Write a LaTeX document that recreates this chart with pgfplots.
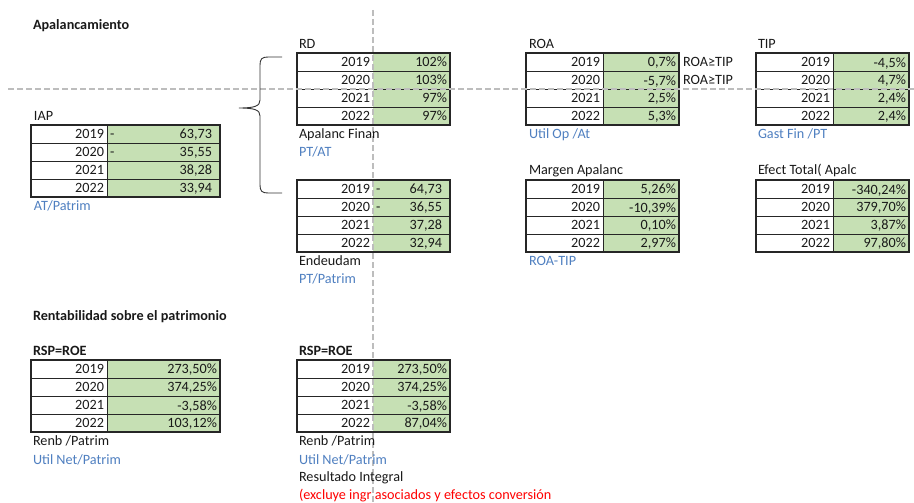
\documentclass[border=0pt]{standalone}
\usepackage{fontspec}
\setmainfont{Carlito}
\usepackage{pgfplots}
\pgfplotsset{compat=1.18}
\usepackage{pgfplotstable}
\definecolor{cellgreen}{HTML}{C6E0B4}
\definecolor{lblue}{HTML}{4F7FC0}
\definecolor{pgbreak}{HTML}{BDBDBD}
\newcommand\cf{\fontsize{14.2}{16}\selectfont}
\tikzset{
  lbl/.style={anchor=base west, inner sep=0pt, outer sep=0pt, font=\cf, text=black!90},
  blbl/.style={lbl, text=lblue},
}

\pgfplotstableread{
r year v
0 2019 -63.73
1 2020 -35.55
2 2021 38.28
3 2022 33.94
}\tIAP
\pgfplotstableread{
r year v
0 2019 102
1 2020 103
2 2021 97
3 2022 97
}\tRD
\pgfplotstableread{
r year v
0 2019 0.7
1 2020 -5.7
2 2021 2.5
3 2022 5.3
}\tROA
\pgfplotstableread{
r year v
0 2019 -4.5
1 2020 4.7
2 2021 2.4
3 2022 2.4
}\tTIP
\pgfplotstableread{
r year v
0 2019 -64.73
1 2020 -36.55
2 2021 37.28
3 2022 32.94
}\tEND
\pgfplotstableread{
r year v
0 2019 5.26
1 2020 -10.39
2 2021 0.10
3 2022 2.97
}\tMAR
\pgfplotstableread{
r year v
0 2019 -340.24
1 2020 379.70
2 2021 3.87
3 2022 97.80
}\tEFE
\pgfplotstableread{
r year v
0 2019 273.50
1 2020 374.25
2 2021 -3.58
3 2022 103.12
}\tROEa
\pgfplotstableread{
r year v
0 2019 273.50
1 2020 374.25
2 2021 -3.58
3 2022 87.04
}\tROEb

% grid of a 4-row table: x0, xdiv, x1, ytop, divider style
\newcommand\tgrid[5]{%
  \fill[cellgreen] (axis cs:#2,#4) rectangle (axis cs:#3,#4+72);
  \draw[line width=0.8pt, black!85]
    (axis cs:#1,#4+18) -- (axis cs:#3,#4+18)
    (axis cs:#1,#4+36) -- (axis cs:#3,#4+36)
    (axis cs:#1,#4+54) -- (axis cs:#3,#4+54);
  \draw[line width=0.8pt, black!85, #5] (axis cs:#2,#4) -- (axis cs:#2,#4+72);
  \draw[line width=1.2pt, black!85] (axis cs:#1,#4) rectangle (axis cs:#3,#4+72);
}
% years: xdiv, ytop, table
\newcommand\tyears[3]{%
  \addplot[draw=none, mark=none, point meta=explicit symbolic,
    nodes near coords={\smash{\makebox[0pt][r]{\pgfplotspointmeta}}}]
    table[x expr={#1-3}, y expr={#2+13.6+18*\thisrow{r}}, meta=year] {#3};
}
% values: x1, ytop, table, number options, suffix
\newcommand\tvals[5]{%
  \addplot[draw=none, mark=none, point meta=explicit,
    nodes near coords={\smash{\makebox[0pt][r]{\pgfmathprintnumber[#4]{\pgfplotspointmeta}#5}}}]
    table[x expr={#1-3}, y expr={#2+13.6+18*\thisrow{r}}, meta=v] {#3};
}
% accounting values: xdiv, x1, ytop, table
\newcommand\tacct[4]{%
  \addplot[draw=none, mark=none, point meta={abs(\thisrow{v})},
    nodes near coords={\smash{\makebox[0pt][r]{\pgfmathprintnumber[fixed,fixed zerofill,precision=2,use comma]{\pgfplotspointmeta}}}}]
    table[x expr={#2-8}, y expr={#3+13.6+18*\thisrow{r}}] {#4};
  \addplot[draw=none, mark=none, restrict expr to domain={\thisrow{v}}{-100000:0},
    nodes near coords={\smash{\makebox[0pt][l]{-}}}]
    table[x expr={#1+3}, y expr={#3+13.6+18*\thisrow{r}}] {#4};
}

\begin{document}
\begin{tikzpicture}
\begin{axis}[
  scale only axis, width=914pt, height=503pt,
  xmin=0, xmax=914, ymin=0, ymax=503, y dir=reverse,
  axis lines=none, clip=false,
  /pgf/number format/assume math mode=true,
  every node near coord/.style={inner sep=0pt, outer sep=0pt, font=\cf, text=black!90},
]
% tables
\tgrid{31}{107}{220}{125}{}
\tyears{107}{125}{\tIAP}
\tacct{107}{220}{125}{\tIAP}

\tgrid{297}{373}{450}{53}{draw=none}
\tyears{373}{53}{\tRD}
\tvals{450}{53}{\tRD}{fixed,precision=0}{\%}

\tgrid{526}{603}{679}{53}{}
\tyears{603}{53}{\tROA}
\tvals{679}{53}{\tROA}{fixed,fixed zerofill,precision=1,use comma}{\%}

\tgrid{756}{833}{909}{53}{}
\tyears{833}{53}{\tTIP}
\tvals{909}{53}{\tTIP}{fixed,fixed zerofill,precision=1,use comma}{\%}

\tgrid{297}{373}{450}{180}{draw=none}
\tyears{373}{180}{\tEND}
\tacct{373}{450}{180}{\tEND}

\tgrid{526}{603}{679}{180}{}
\tyears{603}{180}{\tMAR}
\tvals{679}{180}{\tMAR}{fixed,fixed zerofill,precision=2,use comma}{\%}

\tgrid{756}{833}{909}{180}{}
\tyears{833}{180}{\tEFE}
\tvals{909}{180}{\tEFE}{fixed,fixed zerofill,precision=2,use comma}{\%}

\tgrid{31}{107}{220}{360}{}
\tyears{107}{360}{\tROEa}
\tvals{220}{360}{\tROEa}{fixed,fixed zerofill,precision=2,use comma}{\%}

\tgrid{297}{373}{450}{360}{draw=none}
\tyears{373}{360}{\tROEb}
\tvals{450}{360}{\tROEb}{fixed,fixed zerofill,precision=2,use comma}{\%}

% page-break dashed lines
\draw[pgbreak, line width=1.2pt, dash pattern=on 6pt off 3pt] (axis cs:8,89) -- (axis cs:914,89);
\draw[pgbreak, line width=1.2pt, dash pattern=on 6pt off 3pt] (axis cs:373,10) -- (axis cs:373,503);

% brace
\draw[black!80, line width=0.9pt]
  (axis cs:282,57) -- (axis cs:268,57) .. controls (axis cs:262,57) and (axis cs:260,59) .. (axis cs:260,65)
  -- (axis cs:260,100) .. controls (axis cs:260,106) and (axis cs:255,108) .. (axis cs:239,108)
  .. controls (axis cs:255,108) and (axis cs:260,110) .. (axis cs:260,116)
  -- (axis cs:260,185) .. controls (axis cs:260,191) and (axis cs:262,193) .. (axis cs:268,193)
  -- (axis cs:282,193);

% labels
\node[lbl] at (axis cs:33,29.8) {\bfseries Apalancamiento};
\node[lbl] at (axis cs:299,48.3) {RD};
\node[lbl] at (axis cs:529,48.3) {ROA};
\node[lbl] at (axis cs:758,48.3) {TIP};
\node[lbl] at (axis cs:683,66.6) {ROA≥TIP};
\node[lbl] at (axis cs:683,84.6) {ROA≥TIP};
\node[lbl] at (axis cs:34,120.8) {IAP};
\node[lbl] at (axis cs:299,138.5) {Apalanc Finan};
\node[blbl] at (axis cs:299,156.7) {PT/AT};
\node[blbl] at (axis cs:529,138.5) {Util Op /At};
\node[blbl] at (axis cs:758,138.5) {Gast Fin /PT};
\node[lbl] at (axis cs:529,175) {Margen Apalanc};
\node[lbl] at (axis cs:758,175) {Efect Total( Apalc};
\node[blbl] at (axis cs:34,210.5) {AT/Patrim};
\node[lbl] at (axis cs:299,265) {Endeudam};
\node[blbl] at (axis cs:299,283) {PT/Patrim};
\node[blbl] at (axis cs:529,265) {ROA-TIP};
\node[lbl] at (axis cs:33,320) {\bfseries Rentabilidad sobre el patrimonio};
\node[lbl] at (axis cs:33,355) {\bfseries RSP=ROE};
\node[lbl] at (axis cs:299,355) {\bfseries RSP=ROE};
\node[lbl] at (axis cs:33,445.7) {Renb /Patrim};
\node[blbl] at (axis cs:33,464) {Util Net/Patrim};
\node[lbl] at (axis cs:299,445.7) {Renb /Patrim};
\node[blbl] at (axis cs:299,464) {Util Net/Patrim};
\node[lbl] at (axis cs:299,481.7) {Resultado Integral};
\node[lbl, text=red] at (axis cs:299,499.5) {(excluye ingr asociados y efectos conversión};
\end{axis}
\pgfresetboundingbox
\useasboundingbox (current axis.south west) rectangle (current axis.north east);
\end{tikzpicture}
\end{document}
